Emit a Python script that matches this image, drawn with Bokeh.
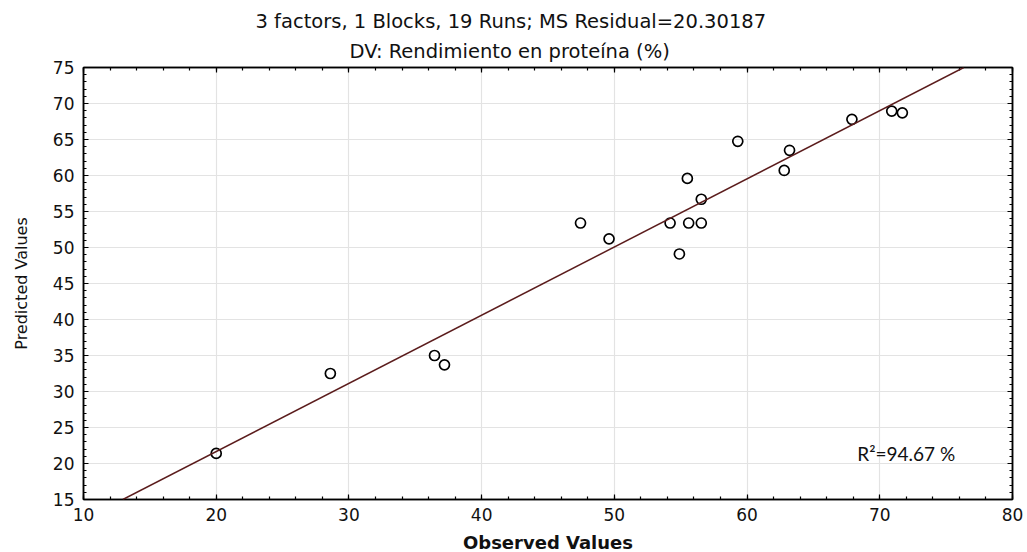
from bokeh.plotting import figure
from bokeh.models import (Range1d, LinearAxis, Title, Label, Slope, SingleIntervalTicker,
                          ColumnDataSource, CustomJSTickFormatter)
from bokeh.embed import file_html
from bokeh.resources import INLINE

# ---- data ----
observed = [20.0, 28.6, 36.45, 37.2, 47.45, 49.6, 54.2, 54.9, 55.5, 55.6, 56.55, 56.55,
            59.3, 62.8, 63.2, 67.9, 70.9, 71.7]
predicted = [21.4, 32.5, 35.0, 33.7, 53.4, 51.2, 53.4, 49.1, 59.6, 53.4, 53.4, 56.7,
             64.75, 60.7, 63.5, 67.8, 68.95, 68.7]
fit_intercept = 2.72
fit_slope = 0.947
title1 = "3 factors, 1 Blocks, 19 Runs; MS Residual=20.30187"
title2 = "DV: Rendimiento en proteína (%)"
r2_text = "R²=94.67 %"

FONT = "DejaVu Sans"

p = figure(frame_width=929, frame_height=432, output_backend="svg", toolbar_location=None,
           x_range=Range1d(10, 80), y_range=Range1d(15, 75),
           min_border_left=83, min_border_right=15, min_border_top=67, min_border_bottom=53,
           x_axis_label="Observed Values", y_axis_label="Predicted Values")
p.title.visible = False

p.outline_line_color = "black"
p.outline_line_width = 1.5
p.background_fill_color = "white"
p.border_fill_color = "white"

p.xgrid.ticker = SingleIntervalTicker(interval=10)
p.ygrid.ticker = SingleIntervalTicker(interval=5)
p.grid.grid_line_color = "#e3e3e3"
p.grid.grid_line_width = 1.2

p.xaxis.ticker = SingleIntervalTicker(interval=10, num_minor_ticks=5)
p.yaxis.ticker = SingleIntervalTicker(interval=5, num_minor_ticks=5)

for ax in (p.xaxis[0], p.yaxis[0]):
    ax.major_tick_in = 5
    ax.major_tick_out = 0
    ax.minor_tick_in = 3
    ax.minor_tick_out = 0
    ax.axis_line_color = "black"
    ax.axis_line_width = 1.5
    ax.major_tick_line_width = 1.2
    ax.minor_tick_line_width = 1.2
    ax.major_label_text_font = FONT
    ax.major_label_text_font_size = "17px"
    ax.major_label_text_color = "#111111"
    ax.axis_label_text_font = FONT
    ax.axis_label_text_font_style = "normal"
    ax.axis_label_text_color = "#111111"

p.xaxis.major_label_standoff = 8
p.yaxis.major_label_standoff = 9
p.xaxis.axis_label_text_font_size = "18px"
p.xaxis.axis_label_text_font_style = "bold"
p.xaxis.axis_label_standoff = 8
p.yaxis.axis_label_text_font_size = "16px"
p.yaxis.axis_label_standoff = 19

blank = CustomJSTickFormatter(code="return ''")
for loc, tk in (("above", SingleIntervalTicker(interval=10, num_minor_ticks=5)),
                ("right", SingleIntervalTicker(interval=5, num_minor_ticks=5))):
    ax = LinearAxis(ticker=tk, formatter=blank)
    ax.major_tick_in = 5
    ax.major_tick_out = 0
    ax.minor_tick_in = 3
    ax.minor_tick_out = 0
    ax.major_label_standoff = 0
    ax.axis_line_width = 1.5
    ax.major_tick_line_width = 1.2
    ax.minor_tick_line_width = 1.2
    p.add_layout(ax, loc)

t2 = Title(text=title2, align="left", offset=266, text_font=FONT, text_font_size="19.5px",
           text_font_style="normal", text_color="#111111", standoff=10)
t1 = Title(text=title1, align="left", offset=172, text_font=FONT, text_font_size="19.5px",
           text_font_style="normal", text_color="#111111", standoff=0)
p.add_layout(t2, "above")
p.add_layout(t1, "above")

fit = Slope(gradient=fit_slope, y_intercept=fit_intercept, line_color="#5b1c1c", line_width=1.5)
p.add_layout(fit)

src = ColumnDataSource(dict(x=observed, y=predicted))
p.scatter("x", "y", source=src, marker="circle", size=10, fill_color=None,
          line_color="black", line_width=1.7)

p.add_layout(Label(x=68.3, y=21.4, text=r2_text, text_font="Lato", text_font_size="19px",
                   text_color="#111111", text_baseline="middle"))

open("out.html", "w").write(file_html(p, INLINE))
